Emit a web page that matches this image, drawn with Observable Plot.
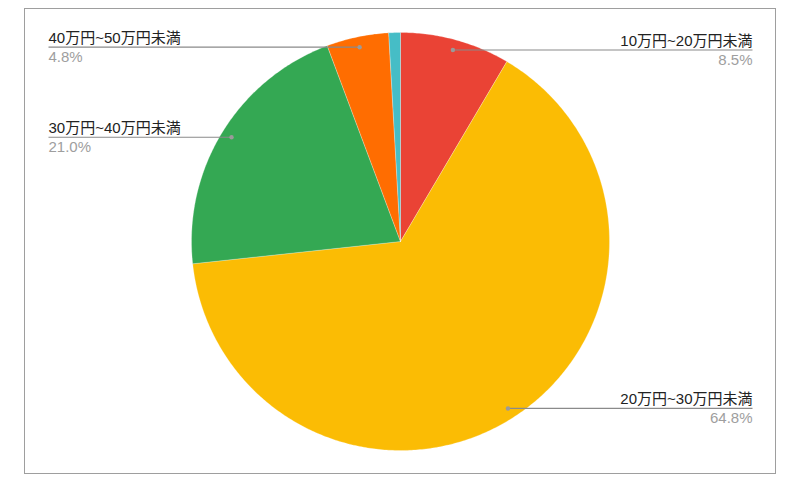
<!DOCTYPE html>
<html>
<head>
<meta charset="utf-8">
<script src="https://cdn.jsdelivr.net/npm/d3@7"></script>
<script src="https://cdn.jsdelivr.net/npm/@observablehq/plot@0.6"></script>
<style>
html, body { margin: 0; padding: 0; background: #fff; overflow: hidden; }
</style>
</head>
<body>
<div id="chart"></div>
<script>
// ---- data ----
const categories = ["10万円~20万円未満", "20万円~30万円未満", "30万円~40万円未満", "40万円~50万円未満", "50万円以上"];
const shares = [8.5, 64.8, 21.0, 4.8, 0.9];
const colors = ["#EA4335", "#FBBC04", "#34A853", "#FF6D01", "#46BDC6"];
const labelled = [true, true, true, true, false];

// ---- layout ----
const W = 799, H = 490;
const R = 209;          // pie radius (px units)
const XHALF = 352;      // half width of plot area
const DOT_R = 0.95;     // label anchor radius fraction

const total = d3.sum(shares);
let cum = 0;
const slices = categories.map((c, i) => {
  const a0 = cum / total * 2 * Math.PI;
  cum += shares[i];
  const a1 = cum / total * 2 * Math.PI;
  return {key: c, value: shares[i], a0, a1, show: labelled[i]};
});

// polygon points for each slice
const poly = [];
for (const s of slices) {
  poly.push({key: s.key, x: 0, y: 0});
  const n = Math.max(2, Math.ceil((s.a1 - s.a0) / 0.01));
  for (let k = 0; k <= n; k++) {
    const a = s.a0 + (s.a1 - s.a0) * k / n;
    poly.push({key: s.key, x: R * Math.sin(a), y: R * Math.cos(a)});
  }
  poly.push({key: s.key, x: 0, y: 0});
}

const labels = slices.filter(s => s.show).map(s => {
  const m = (s.a0 + s.a1) / 2;
  const px = DOT_R * R * Math.sin(m), py = DOT_R * R * Math.cos(m);
  const side = px >= 0 ? 1 : -1;
  return {key: s.key, pct: s.value.toFixed(1) + "%", px, py, ex: side * XHALF, side};
});
const right = labels.filter(d => d.side > 0);
const left = labels.filter(d => d.side < 0);

const chart = Plot.plot({
  width: W, height: H,
  marginLeft: 48, marginRight: 47, marginTop: 32, marginBottom: 40,
  x: {domain: [-XHALF, XHALF], axis: null},
  y: {domain: [-R, R], axis: null},
  color: {domain: categories, range: colors},
  style: {fontFamily: 'Arial, "Liberation Sans", "Noto Sans CJK JP", sans-serif', fontSize: "15px", background: "#fff"},
  marks: [
    Plot.frame({stroke: "#9e9e9e", strokeWidth: 1, insetLeft: -24, insetRight: -23, insetTop: -24, insetBottom: -23}),
    Plot.line(poly, {x: "x", y: "y", z: "key", fill: "key", stroke: "#fff", strokeWidth: 0.5, strokeOpacity: 0.5, curve: "linear"}),
    Plot.link(labels, {x1: "px", y1: "py", x2: "ex", y2: "py", stroke: "#8a8a8a", strokeWidth: 1.2}),
    Plot.dot(labels, {x: "px", y: "py", r: 2.2, fill: "#9a9a9a", stroke: null}),
    Plot.text(right, {x: "ex", y: "py", text: "key", textAnchor: "end", lineAnchor: "bottom", dy: -4, fill: "#222"}),
    Plot.text(right, {x: "ex", y: "py", text: "pct", textAnchor: "end", lineAnchor: "bottom", dy: 15, fill: "#9e9e9e"}),
    Plot.text(left, {x: "ex", y: "py", text: "key", textAnchor: "start", lineAnchor: "bottom", dy: -4, fill: "#222"}),
    Plot.text(left, {x: "ex", y: "py", text: "pct", textAnchor: "start", lineAnchor: "bottom", dy: 15, fill: "#9e9e9e"})
  ]
});
document.getElementById("chart").appendChild(chart);
</script>
</body>
</html>
